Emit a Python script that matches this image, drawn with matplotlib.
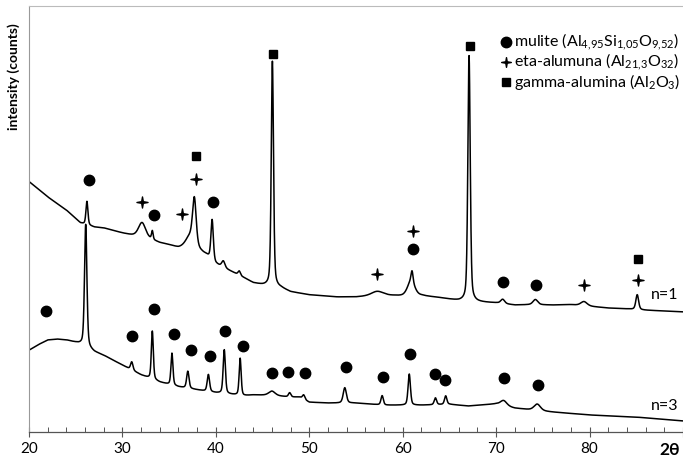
import numpy as np
import matplotlib
matplotlib.use('Agg')
import matplotlib.pyplot as plt
from matplotlib.path import Path

plt.rcParams['font.family'] = ['Lato', 'DejaVu Sans']
plt.rcParams['mathtext.fontset'] = 'custom'
plt.rcParams['mathtext.rm'] = 'Lato'
plt.rcParams['mathtext.it'] = 'Lato:italic'
plt.rcParams['mathtext.bf'] = 'Lato:bold'

# y is given in percent of the axes height (no intensity scale is printed)
n1_bg_x = [20, 22, 24, 25.5, 27, 28, 30, 31, 33, 34, 35, 36, 37, 38.5, 39, 40, 42, 43, 44, 45,
           47, 48, 50, 53, 55, 57, 59, 60, 62, 64, 66, 68, 70, 72, 74, 76, 78, 80, 82, 84, 86, 90]
n1_bg_y = [58.8, 55.2, 52.1, 49.1, 48.1, 47.9, 46.7, 46.2, 45.2, 44.4, 43.9, 43.2, 43.0, 42.0, 41.5,
           39.4, 37.3, 36.2, 35.0, 34.5, 33.8, 32.9, 32.2, 31.7, 31.7, 32.0, 32.0, 31.9, 32.0, 31.5,
           30.8, 30.5, 30.3, 29.8, 29.9, 29.8, 29.9, 29.5, 29.1, 28.9, 28.6, 28.2]
n1_pk_pos = [26.2, 32.1, 33.2, 37.3, 37.7, 39.6, 40.8, 42.5, 46.05, 57.3, 60.9, 61.0, 67.1, 70.7, 74.2, 79.4, 85.1]
n1_pk_h = [5.5, 3.5, 2.0, 3.0, 10.5, 9.5, 1.5, 1.0, 52.9, 1.0, 3.5, 2.5, 57.7, 1.0, 1.2, 1.0, 3.5]
n1_pk_w = [0.25, 0.9, 0.2, 1.2, 0.45, 0.3, 0.4, 0.3, 0.28, 1.5, 0.9, 0.25, 0.3, 0.5, 0.6, 0.8, 0.35]

# n=3
n3_bg_x = [20, 21, 22, 23, 24, 25, 25.8, 27, 28, 30, 32, 34, 36, 38, 40, 43, 44, 46, 48, 49, 50,
           52, 55, 58, 60, 62, 65, 67, 70, 72, 76, 80, 85, 90]
n3_bg_y = [19.2, 20.5, 21.6, 21.8, 21.6, 21.0, 20.4, 18.8, 18.0, 15.7, 13.4, 11.7, 10.6, 9.9, 9.2,
           8.5, 8.7, 8.6, 8.2, 8.2, 7.0, 6.8, 6.8, 6.3, 6.3, 6.3, 6.5, 6.1, 6.6, 5.6, 4.7, 4.0, 3.5, 2.6]
n3_pk_pos = [26.07, 31.0, 33.2, 35.3, 37.0, 39.2, 40.9, 42.6, 46.0, 47.9, 49.4, 53.8, 57.8, 60.7, 63.5, 64.6, 70.8, 74.4]
n3_pk_h = [28.7, 1.9, 11.3, 7.5, 4.0, 4.0, 10.3, 8.7, 1.0, 1.0, 1.0, 3.6, 2.2, 7.3, 1.6, 2.0, 1.2, 1.5]
n3_pk_w = [0.3, 0.3, 0.25, 0.25, 0.3, 0.3, 0.28, 0.25, 0.8, 0.3, 0.3, 0.4, 0.3, 0.3, 0.3, 0.3, 0.8, 0.8]

# phase markers
n1_mul_x = [26.39, 33.35, 39.74, 61.06, 70.77, 74.27]
n1_mul_y = [59.1, 50.9, 54.1, 42.9, 35.1, 34.4]
n1_eta_x = [32.09, 36.33, 37.83, 57.24, 61.11, 79.45, 85.14]
n1_eta_y = [54.1, 51.1, 59.5, 37.1, 47.3, 34.5, 35.7]
n1_gam_x = [37.87, 46.13, 67.18, 85.14]
n1_gam_y = [64.8, 88.8, 90.5, 40.6]
n3_mul_x = [21.82, 31.06, 33.39, 35.49, 37.31, 39.37, 41.0, 42.87, 46.04, 47.77, 49.49,
            53.92, 57.89, 60.78, 63.44, 64.56, 70.82, 74.46]
n3_mul_y = [28.5, 22.5, 28.8, 23.1, 19.2, 17.8, 23.7, 20.1, 13.9, 14.1, 13.9,
            15.3, 12.8, 18.2, 13.5, 12.2, 12.6, 11.1]

legend_labels = ['mulite (Al$_{4{,}95}$Si$_{1{,}05}$O$_{9{,}52}$)',
                 'eta-alumuna (Al$_{21{,}3}$O$_{32}$)',
                 'gamma-alumina (Al$_{2}$O$_{3}$)']


def pattern(tt, bg_x, bg_y, pos, h, w):
    y = np.interp(tt, bg_x, bg_y)
    for p, a, fw in zip(pos, h, w):
        g = np.exp(-4 * np.log(2) * ((tt - p) / fw) ** 2)
        l = 1.0 / (1 + (2 * (tt - p) / fw) ** 2)
        y = y + a * (0.6 * g + 0.4 * l)
    return y


# 4 pointed star marker
star4 = Path([(0, 1), (0.15, 0.15), (1, 0), (0.15, -0.15), (0, -1), (-0.15, -0.15),
              (-1, 0), (-0.15, 0.15), (0, 1)], closed=True)

tt = np.arange(20, 90.001, 0.01)
y1 = pattern(tt, n1_bg_x, n1_bg_y, n1_pk_pos, n1_pk_h, n1_pk_w)
y3 = pattern(tt, n3_bg_x, n3_bg_y, n3_pk_pos, n3_pk_h, n3_pk_w)

fig = plt.figure(figsize=(6.83, 4.61), dpi=100)
ax = fig.add_axes([29 / 683, 29 / 461, 654 / 683, 426 / 461])

ax.plot(tt, y1, color='black', lw=1.1)
ax.plot(tt, y3, color='black', lw=1.1)

ax.plot(n1_mul_x, n1_mul_y, 'o', color='black', ms=7.5, ls='none')
ax.plot(n3_mul_x, n3_mul_y, 'o', color='black', ms=7.5, ls='none')
ax.plot(n1_eta_x, n1_eta_y, marker=star4, color='black', ms=8, ls='none')
ax.plot(n1_gam_x, n1_gam_y, 's', color='black', ms=6, ls='none')

# legend drawn by hand, like the original
leg_y = [91.6, 86.8, 82.2]
ax.plot([71.1], [leg_y[0]], 'o', color='black', ms=7.5)
ax.plot([71.1], [leg_y[1]], marker=star4, color='black', ms=7)
ax.plot([71.1], [leg_y[2]], 's', color='black', ms=6)
for yy, lab in zip(leg_y, legend_labels):
    ax.text(71.95, yy, lab, fontsize=11.5, va='center', ha='left')

ax.text(89.5, 32.2, 'n=1', fontsize=11.5, ha='right', va='center')
ax.text(89.5, 6.1, 'n=3', fontsize=11.5, ha='right', va='center')

ax.set_xlim(20, 90)
ax.set_ylim(0, 100)
ax.set_yticks([])
ax.set_xticks(np.arange(20, 91, 10))
ax.set_xticklabels(['20', '30', '40', '50', '60', '70', '80', ''])
ax.set_xticks(np.arange(20, 91, 2), minor=True)
ax.tick_params(axis='x', which='major', direction='inout', length=7, width=0.8,
               color='#555555', labelsize=11, pad=4)
ax.tick_params(axis='x', which='minor', direction='in', length=3.5, width=0.7, color='#555555')

ax.spines['right'].set_visible(False)
ax.spines['top'].set_color('#bbbbbb')
ax.spines['left'].set_color('#999999')
ax.spines['bottom'].set_color('#555555')
ax.spines['bottom'].set_linewidth(0.9)

fig.text(14 / 683, 1 - 77 / 461, 'intensity (counts)', rotation=90, fontsize=10,
         fontweight='bold', ha='center', va='center')
fig.text(670 / 683, 1 - 450 / 461, '2θ', fontsize=12.5, fontweight='bold',
         ha='center', va='center', family=['Lato', 'DejaVu Sans'])

fig.savefig('out.png', dpi=100)
